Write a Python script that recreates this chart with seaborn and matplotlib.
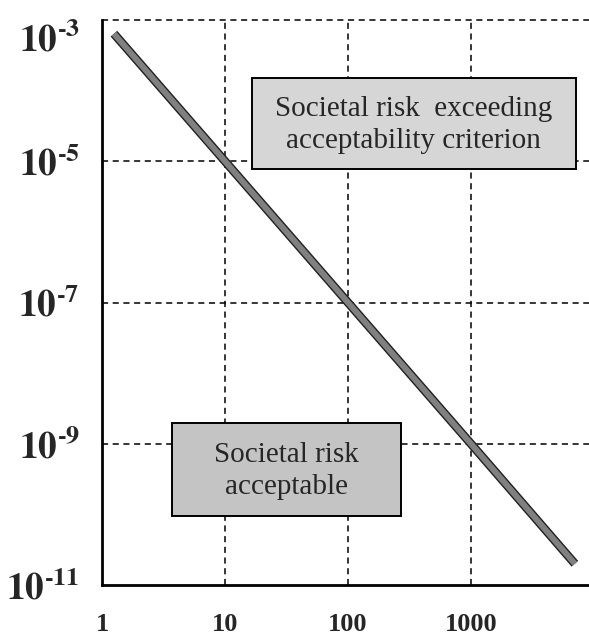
import matplotlib
matplotlib.use('Agg')
import matplotlib.pyplot as plt
import matplotlib.patheffects as pe
from matplotlib.patches import Rectangle
from matplotlib.transforms import ScaledTranslation
import seaborn as sns

# F-N criterion line (consequence N vs frequency)
consequence = [1.25, 10, 100, 1000, 7000]
frequency = [6.4e-4, 1e-5, 1e-7, 1e-9, 2e-11]

x_ticks = [1, 10, 100, 1000]
x_labels = ['1', '10', '100', '1000']
y_ticks = [1e-3, 1e-5, 1e-7, 1e-9, 1e-11]
y_labels = ['$\\mathbf{10^{\u2010' + e + '}}$' for e in ['3', '5', '7', '9', '11']]

upper_text = 'Societal risk  exceeding\nacceptability criterion'
lower_text = 'Societal risk\nacceptable'

sns.set_style('white')
plt.rcParams['font.family'] = ['Liberation Serif', 'DejaVu Serif']
plt.rcParams['mathtext.fontset'] = 'stix'

fig = plt.figure(figsize=(5.89, 6.37), dpi=100)
ax = fig.add_axes([0.1732, 0.0816, 0.8268, 0.887])
ax.set_xscale('log')
ax.set_yscale('log')

# dashed grid
for xv in x_ticks[1:]:
    ax.axvline(xv, color='black', lw=1.1, ls=(0, (4, 3)), zorder=1)
for yv in y_ticks[:-1]:
    ax.axhline(yv, color='black', lw=1.1, ls=(0, (4, 3)), zorder=1, clip_on=False)

# boxes
ax.add_patch(Rectangle((0.308, 0.736), 0.665, 0.161, transform=ax.transAxes,
                       facecolor='#d6d6d6', edgecolor='black', lw=1.4, zorder=3))
ax.text(0.64, 0.815, upper_text, transform=ax.transAxes, ha='center', va='center',
        fontsize=21, linespacing=1.3, zorder=4)
ax.add_patch(Rectangle((0.144, 0.122), 0.470, 0.165, transform=ax.transAxes,
                       facecolor='#c4c4c4', edgecolor='black', lw=1.4, zorder=3))
ax.text(0.379, 0.202, lower_text, transform=ax.transAxes, ha='center', va='center',
        fontsize=21, linespacing=1.3, zorder=4)

sns.lineplot(x=consequence, y=frequency, ax=ax, color='#808080', lw=4.3, zorder=5,
             solid_capstyle='butt',
             path_effects=[pe.Stroke(linewidth=6.3, foreground='#202020', capstyle='butt'),
                           pe.Normal()])

ax.set_xlim(1, 10 ** 3.96)
ax.set_ylim(1e-11, 1e-3)
ax.set_xticks(x_ticks)
ax.set_xticklabels(x_labels, fontsize=19, fontweight='bold')
ax.set_yticks(y_ticks)
ax.set_yticklabels(y_labels, fontsize=27)
ax.minorticks_off()
ax.tick_params(axis='both', length=0)
ax.tick_params(axis='x', pad=20)
ax.tick_params(axis='y', pad=16)

# top label sits a bit lower in the original
top_lab = ax.get_yticklabels()[0]
top_lab.set_transform(top_lab.get_transform() + ScaledTranslation(0, -0.17, fig.dpi_scale_trans))

for s in ['top', 'right']:
    ax.spines[s].set_visible(False)
for s in ['left', 'bottom']:
    ax.spines[s].set_color('black')
    ax.spines[s].set_linewidth(2)

plt.savefig('out.png', dpi=100)
